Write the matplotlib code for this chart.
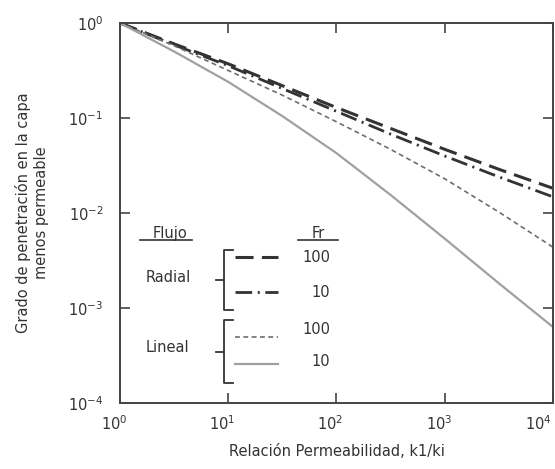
import matplotlib
matplotlib.use('Agg')
import matplotlib.pyplot as plt
import matplotlib.transforms as mtransforms
from matplotlib.ticker import NullLocator

plt.rcParams['font.family'] = ['DejaVu Sans']
plt.rcParams['lines.scale_dashes'] = False

# relacion de permeabilidad k1/ki
k_ratio = [1, 3.16, 10, 31.6, 100, 316, 1000, 3162, 10000]
# valores (log10 del grado de penetracion)
log_radial_100 = [0, -0.22, -0.43, -0.66, -0.89, -1.11, -1.33, -1.54, -1.74]
log_radial_10 = [0, -0.23, -0.45, -0.69, -0.93, -1.17, -1.40, -1.62, -1.83]
log_lineal_100 = [0, -0.24, -0.50, -0.76, -1.04, -1.33, -1.64, -1.99, -2.36]
log_lineal_10 = [0, -0.30, -0.62, -0.98, -1.37, -1.81, -2.27, -2.74, -3.20]

x_ticks = [1, 10, 100, 1000, 10000]
y_ticks = [1e-4, 1e-3, 1e-2, 1e-1, 1]

radial_100 = [10 ** v for v in log_radial_100]
radial_10 = [10 ** v for v in log_radial_10]
lineal_100 = [10 ** v for v in log_lineal_100]
lineal_10 = [10 ** v for v in log_lineal_10]

dark = '#333333'
grey_dash = '#6e6e6e'
grey_solid = '#a0a0a0'

fig = plt.figure(figsize=(5.55, 4.69), dpi=100)
ax = fig.add_axes([0.2162, 0.1407, 0.7802, 0.8103])

ax.plot(k_ratio, radial_100, color=dark, lw=2.2, dashes=(13, 6))
ax.plot(k_ratio, radial_10, color=dark, lw=2.0, dashes=(12, 4, 1.5, 4))
ax.plot(k_ratio, lineal_100, color=grey_dash, lw=1.2, dashes=(3.5, 2.5))
ax.plot(k_ratio, lineal_10, color=grey_solid, lw=1.6)

ax.set_xscale('log')
ax.set_yscale('log')
ax.set_xlim(1, 1e4)
ax.set_ylim(1e-4, 1)
ax.set_xticks(x_ticks)
ax.set_yticks(y_ticks)
ax.xaxis.set_minor_locator(NullLocator())
ax.yaxis.set_minor_locator(NullLocator())
ax.tick_params(which='major', direction='in', top=True, right=True,
               length=7, width=1.2, color='#444444', labelsize=10.5,
               labelcolor='#333333')
ax.tick_params(axis='x', pad=8)
ax.tick_params(axis='y', pad=12)
for s in ax.spines.values():
    s.set_color('#444444')
    s.set_linewidth(1.4)

# correr las etiquetas del eje x un poco a la izquierda
fig.canvas.draw()
labels = ax.get_xticklabels()
for i, lab in enumerate(labels):
    dx = -15 if i == len(labels) - 1 else -6
    lab.set_transform(lab.get_transform() +
                      mtransforms.ScaledTranslation(dx / 100, 0, fig.dpi_scale_trans))

ax.set_xlabel('Relación Permeabilidad, k1/ki', fontsize=10.5, color='#333333', labelpad=8)
ax.set_ylabel('Grado de penetración en la capa\nmenos permeable', fontsize=10.5,
              color='#333333', labelpad=14)

# leyenda dibujada a mano
tr = ax.transAxes
txt = dict(transform=tr, fontsize=10.5, color='#333333', va='center')
ax.text(0.115, 0.447, 'Flujo', ha='center', **txt)
ax.plot([0.046, 0.166], [0.429, 0.429], color=dark, lw=1.2, transform=tr, clip_on=False)
ax.text(0.457, 0.447, 'Fr', ha='center', **txt)
ax.plot([0.411, 0.503], [0.429, 0.429], color=dark, lw=1.2, transform=tr, clip_on=False)
ax.text(0.111, 0.329, 'Radial', ha='center', **txt)
ax.text(0.109, 0.147, 'Lineal', ha='center', **txt)

def bracket(y_top, y_bot, y_mid):
    x0, x1, xt = 0.240, 0.262, 0.222
    ax.plot([x1, x0, x0, x1], [y_top, y_top, y_bot, y_bot], color=dark, lw=1.3,
            transform=tr, clip_on=False)
    ax.plot([xt, x0], [y_mid, y_mid], color=dark, lw=1.3, transform=tr, clip_on=False)

bracket(0.403, 0.245, 0.324)
bracket(0.218, 0.053, 0.134)

xs = [0.265, 0.365]
ax.plot(xs, [0.384, 0.384], color=dark, lw=2.2, dashes=(13, 6), transform=tr)
ax.plot(xs, [0.292, 0.292], color=dark, lw=2.0, dashes=(12, 4, 1.5, 4), transform=tr)
ax.plot(xs, [0.174, 0.174], color=grey_dash, lw=1.2, dashes=(3.5, 2.5), transform=tr)
ax.plot(xs, [0.103, 0.103], color=grey_solid, lw=1.6, transform=tr)
ax.text(0.485, 0.384, '100', ha='right', **txt)
ax.text(0.485, 0.292, '10', ha='right', **txt)
ax.text(0.485, 0.194, '100', ha='right', **txt)
ax.text(0.485, 0.108, '10', ha='right', **txt)

fig.savefig('out.png', dpi=100)
